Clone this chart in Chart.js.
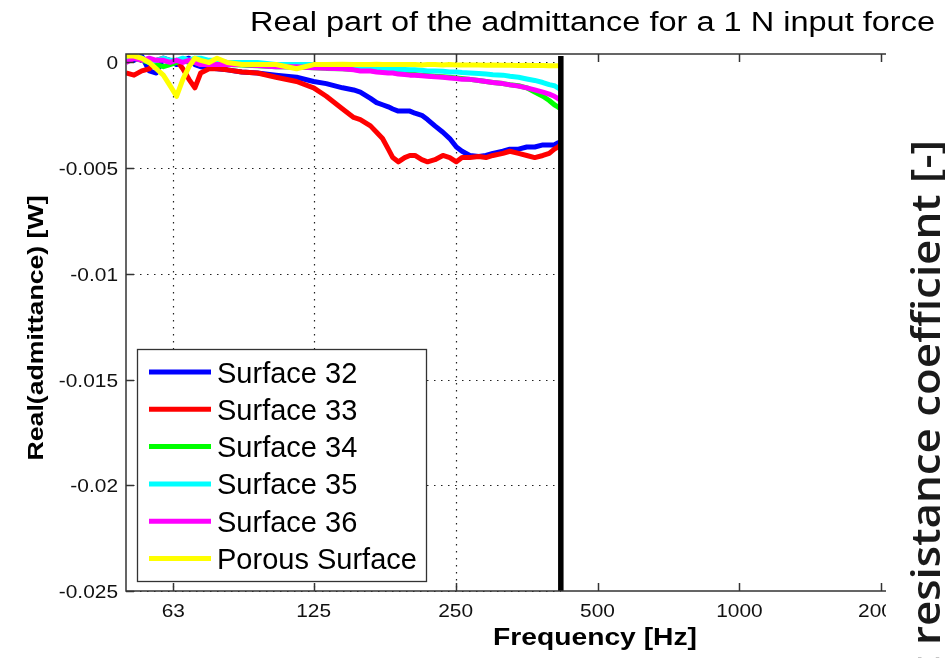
<!DOCTYPE html>
<html>
<head>
<meta charset="utf-8">
<script src="https://cdn.jsdelivr.net/npm/chart.js@4.4.1/dist/chart.umd.min.js"></script>
<style>
  html, body { margin: 0; padding: 0; background: #fff; overflow: hidden; }
  #wrap { width: 945px; height: 658px; overflow: hidden; }
  canvas { display: block; }
</style>
</head>
<body>
<div id="wrap"><canvas id="chart" width="1100" height="658"></canvas></div>
<script>
// shared frequency grid (Hz)
var freqs = [50, 52, 54, 56, 58, 60, 62, 64, 66, 68,
  70, 72, 75, 78, 82, 88, 95, 104, 115, 125,
  133, 144, 152, 157, 165, 170, 175, 180, 184, 189,
  195, 200, 205, 212, 218, 226, 235, 243, 251, 258,
  268, 280, 290, 300, 315, 326, 340, 354, 368, 383,
  395, 405, 412, 418];

var surface32 = [0.0002, 0.0001, 0.0003, -0.0004, -0.0005, 0.0002, 0.0001, -0.0001, 0.0001, 0.0002,
  -0.0001, -0.0002, -0.00026, -0.0003, -0.00035, -0.00045, -0.0005, -0.0006, -0.0007, -0.0009,
  -0.001, -0.0012, -0.0013, -0.0014, -0.0017, -0.0019, -0.002, -0.0021, -0.0022, -0.0023,
  -0.0023, -0.0023, -0.0024, -0.0025, -0.0027, -0.003, -0.0033, -0.0036, -0.004, -0.0042,
  -0.0044, -0.00445, -0.0044, -0.0043, -0.0042, -0.0041, -0.0041, -0.004, -0.004, -0.0039,
  -0.0039, -0.0039, -0.0038, -0.0038];

var surface33 = [-0.0005, -0.0006, -0.0004, -0.0003, 0.0001, 0.0002, 0.0, 0.0001, -0.0003, -0.0008,
  -0.0012, -0.0005, -0.0003, -0.0003, -0.00035, -0.00045, -0.0005, -0.0007, -0.0009, -0.0012,
  -0.0016, -0.0022, -0.0026, -0.0027, -0.003, -0.0033, -0.0036, -0.0041, -0.0045, -0.0047,
  -0.0045, -0.0044, -0.0044, -0.0046, -0.0047, -0.0046, -0.0044, -0.0045, -0.0047, -0.0045,
  -0.0045, -0.00445, -0.0045, -0.0044, -0.0043, -0.0042, -0.0043, -0.0044, -0.0045, -0.0044,
  -0.0043, -0.0041, -0.004, -0.0039];

var surface34 = [0.0001, 0.0002, 0.0001, 0.0, -0.0001, -0.0002, -0.0001, 0.0, 0.0001, 0.0,
  0.0, -0.0001, -0.0001, -0.0001, -0.0001, -0.00012, -0.00015, -0.0002, -0.00022, -0.00025,
  -0.00028, -0.0003, -0.00033, -0.00035, -0.00038, -0.0004, -0.00042, -0.00045, -0.00047, -0.0005,
  -0.00052, -0.00055, -0.00057, -0.0006, -0.00062, -0.00065, -0.00068, -0.0007, -0.00073, -0.00076,
  -0.0008, -0.00085, -0.0009, -0.00095, -0.001, -0.00105, -0.0011, -0.0012, -0.0014, -0.0016,
  -0.0018, -0.002, -0.0021, -0.0022];

var surface35 = [0.0001, 0.0003, 0.0002, 0.0, 0.0001, 0.0002, 0.0001, 0.0001, 0.0002, 0.0001,
  0.0002, 0.0002, 0.0001, 0.0001, 0.0, 0.0, 0.0, -0.0001, -0.0001, -0.0001,
  -0.00012, -0.00015, -0.00018, -0.0002, -0.00022, -0.00025, -0.00027, -0.0003, -0.0003, -0.00032,
  -0.00033, -0.00035, -0.00035, -0.00037, -0.0004, -0.0004, -0.00042, -0.00045, -0.00045, -0.00048,
  -0.0005, -0.00052, -0.00055, -0.00058, -0.0006, -0.00065, -0.0007, -0.00078, -0.00085, -0.00095,
  -0.00105, -0.0011, -0.0012, -0.0013];

var surface36 = [0.0, 0.0002, 0.0001, 0.0002, 0.0001, 0.0001, 0.0, 0.0001, 0.0, 0.0001,
  0.0, -0.0001, -0.0001, -0.0001, -0.0001, -0.0001, -0.00015, -0.0002, -0.0002, -0.00025,
  -0.00027, -0.0003, -0.00035, -0.0004, -0.0004, -0.00045, -0.00047, -0.0005, -0.0005, -0.00055,
  -0.00057, -0.0006, -0.0006, -0.00063, -0.00065, -0.00068, -0.0007, -0.00073, -0.00076, -0.0008,
  -0.0008, -0.00085, -0.0009, -0.00095, -0.001, -0.00106, -0.00112, -0.0012, -0.0013, -0.0014,
  -0.0015, -0.0016, -0.0017, -0.0018];

var porous = [0.0003, 0.0003, 0.0002, 0.0, -0.0003, -0.0006, -0.0011, -0.0016, -0.0008, -0.0002,
  0.0002, 0.0001, 0.0, 0.0002, 0.0, -0.0001, -0.0001, -0.0001, -0.0003, -0.0001,
  -0.0001, -0.00008, -0.0001, -0.0001, -0.0001, -0.00008, -0.0001, -0.0001, -0.0001, -0.0001,
  -0.0001, -0.0001, -0.0001, -0.00012, -0.0001, -0.0001, -0.00012, -0.0001, -0.00012, -0.00012,
  -0.00012, -0.00012, -0.00013, -0.00012, -0.00013, -0.00013, -0.00014, -0.00013, -0.00014, -0.00014,
  -0.00015, -0.00015, -0.00015, -0.00015];

var seriesNames = ['Surface 32', 'Surface 33', 'Surface 34', 'Surface 35', 'Surface 36', 'Porous Surface'];
var seriesValues = [surface32, surface33, surface34, surface35, surface36, porous];
var seriesColors = ['#0000ff', '#ff0000', '#00ff00', '#00ffff', '#ff00ff', '#ffff00'];

var xTicks = [63, 125, 250, 500, 1000, 2000, 4000];
var yTicks = [0, -0.005, -0.01, -0.015, -0.02, -0.025];
var cutoffFreq = 418;   // thick black marker line

var titleText = 'Real part of the admittance for a 1 N input force';
var xTitle = 'Frequency [Hz]';
var yTitle = 'Real(admittance) [W]';
var sideText = 't resistance coefficient [-]';

function toPoints(vals) {
  return vals.map(function (v, i) { return { x: freqs[i], y: v }; });
}

var datasets = seriesValues.map(function (vals, i) {
  return {
    label: seriesNames[i],
    data: toPoints(vals),
    borderColor: seriesColors[i],
    borderWidth: 5,
    order: seriesValues.length - i   // later series on top, like matlab
  };
});
datasets.push({
  label: 'limit',
  data: [{ x: cutoffFreq, y: -0.025 }, { x: cutoffFreq, y: 0.0003 }],
  borderColor: '#000',
  borderWidth: 5.5,
  order: -1
});

// draw text, optionally stretched horizontally to a given width
function txt(ctx, s, x, y, font, o) {
  o = o || {};
  ctx.save();
  ctx.font = font;
  var w = ctx.measureText(s).width;
  var sx = o.width ? o.width / w : (o.sx || 1);
  ctx.translate(x, y);
  if (o.rotate) ctx.rotate(o.rotate);
  ctx.scale(sx, 1);
  ctx.textAlign = o.align || 'left';
  ctx.textBaseline = o.baseline || 'alphabetic';
  ctx.fillStyle = o.color || '#000';
  ctx.fillText(s, 0, 0);
  ctx.restore();
}

function seg(ctx, x1, y1, x2, y2) {
  ctx.beginPath(); ctx.moveTo(x1, y1); ctx.lineTo(x2, y2); ctx.stroke();
}

var matlabLook = {
  id: 'matlabLook',
  beforeDatasetsDraw: function (chart) {
    var ctx = chart.ctx, a = chart.chartArea;
    var xs = chart.scales.x, ys = chart.scales.y;
    var xCut = xs.getPixelForValue(cutoffFreq);
    // dotted grid, only left of the marker line
    ctx.save();
    ctx.strokeStyle = '#222';
    ctx.lineWidth = 1.2;
    ctx.setLineDash([1.5, 5.5]);
    xTicks.forEach(function (t) {
      var px = Math.round(xs.getPixelForValue(t)) + 0.5;
      if (px < xCut) seg(ctx, px, a.top, px, a.bottom);
    });
    yTicks.forEach(function (t) {
      var py = Math.round(ys.getPixelForValue(t)) + 0.5;
      seg(ctx, a.left, py, xCut, py);
    });
    ctx.restore();
  },
  afterDatasetsDraw: function (chart) {
    var ctx = chart.ctx, a = chart.chartArea;
    var xs = chart.scales.x, ys = chart.scales.y;
    var tl = 8;

    // axes box and inward ticks
    ctx.save();
    ctx.strokeStyle = '#333';
    ctx.lineWidth = 1.5;
    ctx.strokeRect(a.left, a.top, a.right - a.left, a.bottom - a.top);
    xTicks.forEach(function (t) {
      var px = Math.round(xs.getPixelForValue(t)) + 0.5;
      seg(ctx, px, a.bottom, px, a.bottom - tl);
      seg(ctx, px, a.top, px, a.top + tl);
    });
    yTicks.forEach(function (t) {
      var py = Math.round(ys.getPixelForValue(t)) + 0.5;
      seg(ctx, a.left, py, a.left + tl, py);
      seg(ctx, a.right, py, a.right - tl, py);
    });
    ctx.restore();

    // tick labels
    var tickFont = '19px "Liberation Sans", Arial, sans-serif';
    xTicks.forEach(function (t) {
      txt(ctx, String(t), xs.getPixelForValue(t), 617, tickFont, { sx: 1.1, align: 'center', color: '#111' });
    });
    yTicks.forEach(function (t) {
      var lab = t === 0 ? '0' : String(t);
      txt(ctx, lab, a.left - 8, ys.getPixelForValue(t) + 7, tickFont, { sx: 1.1, align: 'right', color: '#111' });
    });

    // axis titles
    txt(ctx, xTitle, 595, 645, 'bold 23px "Liberation Sans", Arial, sans-serif', { width: 204, align: 'center' });
    txt(ctx, yTitle, 43, 328, 'bold 22px "Liberation Sans", Arial, sans-serif', { width: 265, align: 'center', rotate: -Math.PI / 2 });

    // legend box
    var lx = 137, ly = 349, lw = 289, lh = 232, step = 37.3;
    ctx.save();
    ctx.fillStyle = '#fff';
    ctx.fillRect(lx, ly, lw, lh);
    ctx.strokeStyle = '#333';
    ctx.lineWidth = 1.3;
    ctx.strokeRect(lx + 0.5, ly + 0.5, lw, lh);
    seriesNames.forEach(function (n, i) {
      var y = 372 + i * step;
      ctx.strokeStyle = seriesColors[i];
      ctx.lineWidth = 5;
      seg(ctx, 149, y, 211, y);
      txt(ctx, n, 217, y + 10.5, '29px "Liberation Sans", Arial, sans-serif', { color: '#000' });
    });
    ctx.restore();

    // neighbouring figure covering the right side
    var sideFont = '600 40px "Open Sans", "Noto Sans", sans-serif';
    ctx.save();
    ctx.fillStyle = '#fff';
    ctx.fillRect(886, 44, chart.width - 886, chart.height - 44);
    ctx.font = sideFont;
    var full = ctx.measureText('resistance coefficient [-]').width;
    ctx.restore();
    txt(ctx, sideText, 940, 140, sideFont,
      { sx: 505 / full, align: 'right', rotate: -Math.PI / 2, color: '#1a1a1a' });

    // title
    txt(ctx, titleText, 250, 31, '27px "Liberation Sans", Arial, sans-serif', { width: 685, color: '#000' });
  }
};

new Chart(document.getElementById('chart'), {
  type: 'line',
  data: { datasets: datasets },
  options: {
    responsive: false,
    animation: false,
    layout: { padding: { left: 126, top: 54, right: 31, bottom: 67 } },
    plugins: { legend: { display: false }, tooltip: { enabled: false }, title: { display: false } },
    elements: { point: { radius: 0 }, line: { tension: 0, borderJoinStyle: 'round' } },
    scales: {
      x: { type: 'logarithmic', min: 50, max: 5000, display: false },
      y: { type: 'linear', min: -0.025, max: 0.0004, display: false }
    }
  },
  plugins: [matlabLook]
});
</script>
</body>
</html>
